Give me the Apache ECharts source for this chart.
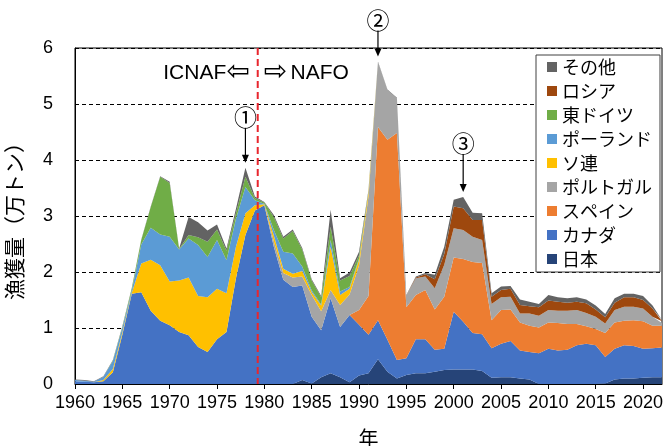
<!DOCTYPE html>
<html>
<head>
<meta charset="utf-8">
<script src="https://cdn.jsdelivr.net/npm/echarts@6.0.0/dist/echarts.min.js"></script>
<style>
  html, body { margin: 0; padding: 0; background: #fff; }
  #chart { width: 664px; height: 446px; }
</style>
</head>
<body>
<div id="chart"></div>
<script>
// years 1960..2022
const years = Array.from({ length: 63 }, (_, i) => 1960 + i);

// catch in 10,000 t, one value per year
const japan = [
  0, 0, 0, 0, 0, 0, 0, 0, 0, 0,
  0, 0, 0, 0, 0, 0, 0, 0, 0, 0,
  0, 0, 0, 0, 0.07, 0.01, 0.12, 0.19, 0.12, 0.03,
  0.15, 0.19, 0.44, 0.22, 0.10, 0.16, 0.19, 0.19, 0.22, 0.25,
  0.26, 0.26, 0.26, 0.23, 0.11, 0.12, 0.12, 0.10, 0.08, 0,
  0, 0, 0, 0, 0, 0, 0.01, 0.08, 0.10, 0.10,
  0.11, 0.12, 0.12
];
const canada = [
  0.05, 0.04, 0.03, 0.05, 0.21, 0.88, 1.61, 1.64, 1.31, 1.13,
  1.05, 0.93, 0.87, 0.66, 0.57, 0.80, 0.93, 1.89, 2.66, 3.10,
  3.19, 2.45, 1.86, 1.73, 1.69, 1.19, 0.84, 1.34, 0.90, 1.20,
  0.91, 0.69, 0.70, 0.57, 0.33, 0.30, 0.61, 0.61, 0.39, 0.38,
  1.03, 0.85, 0.65, 0.66, 0.53, 0.60, 0.65, 0.50, 0.49, 0.55,
  0.63, 0.60, 0.61, 0.69, 0.72, 0.69, 0.47, 0.55, 0.59, 0.58,
  0.52, 0.52, 0.53
];
const spain = [
  0, 0, 0, 0, 0, 0, 0, 0, 0, 0,
  0, 0, 0, 0, 0, 0, 0, 0, 0, 0,
  0, 0, 0, 0, 0, 0, 0, 0, 0, 0,
  0.26, 0.69, 3.45, 3.57, 4.05, 0.91, 0.79, 0.88, 0.72, 0.93,
  0.97, 1.12, 1.27, 1.27, 0.50, 0.60, 0.56, 0.50, 0.47, 0.46,
  0.47, 0.49, 0.46, 0.38, 0.31, 0.29, 0.43, 0.47, 0.44, 0.46,
  0.49, 0.40, 0.39
];
const portugal = [
  0, 0, 0, 0, 0, 0, 0, 0, 0, 0,
  0, 0, 0, 0, 0, 0, 0, 0, 0, 0,
  0, 0.10, 0.12, 0.17, 0.16, 0.39, 0.34, 0.15, 0.39, 0.37,
  0.80, 1.78, 1.16, 0.89, 0.62, 0.21, 0.30, 0.24, 0.38, 0.57,
  0.52, 0.52, 0.45, 0.41, 0.29, 0.23, 0.23, 0.16, 0.22, 0.21,
  0.22, 0.22, 0.24, 0.25, 0.24, 0.22, 0.17, 0.22, 0.25, 0.24,
  0.23, 0.16, 0.05
];
const ussr = [
  0, 0, 0, 0.02, 0.06, 0.04, 0.02, 0.51, 0.91, 0.99,
  0.78, 0.92, 1.03, 0.91, 0.98, 0.90, 0.69, 0.56, 0.39, 0.09,
  0.02, 0.10, 0.08, 0.07, 0.10, 0.05, 0.10, 0.77, 0.18, 0.10,
  0.10, 0.08, 0, 0, 0, 0, 0, 0, 0, 0,
  0, 0, 0, 0, 0, 0, 0, 0, 0, 0,
  0, 0, 0, 0, 0, 0, 0, 0, 0, 0,
  0, 0, 0
];
const poland = [
  0.02, 0.02, 0.01, 0.06, 0.14, 0.08, 0.04, 0.34, 0.57, 0.55,
  0.80, 0.55, 0.70, 0.91, 0.72, 0.87, 0.59, 0.50, 0.47, 0.09,
  0.01, 0.10, 0.30, 0.36, 0.08, 0.03, 0.02, 0.12, 0.06, 0.03,
  0.02, 0.01, 0, 0, 0, 0, 0, 0, 0, 0,
  0, 0, 0, 0, 0, 0, 0, 0, 0, 0,
  0, 0, 0, 0, 0, 0, 0, 0, 0, 0,
  0, 0, 0
];
const eastGermany = [
  0, 0, 0, 0, 0.01, 0.02, 0.04, 0.08, 0.37, 1.03,
  0.96, 0.01, 0.06, 0.14, 0.27, 0.19, 0.17, 0.10, 0.18, 0.04,
  0.02, 0.23, 0.24, 0.40, 0.30, 0.18, 0.13, 0.24, 0.20, 0.20,
  0.06, 0.01, 0, 0, 0, 0, 0, 0, 0, 0,
  0, 0, 0, 0, 0, 0, 0, 0, 0, 0,
  0, 0, 0, 0, 0, 0, 0, 0, 0, 0,
  0, 0, 0
];
const russia = [
  0, 0, 0, 0, 0, 0, 0, 0, 0, 0,
  0, 0, 0, 0, 0, 0, 0, 0, 0, 0,
  0, 0, 0, 0, 0, 0, 0, 0, 0, 0,
  0, 0, 0, 0, 0, 0, 0.01, 0.04, 0.16, 0.19,
  0.39, 0.39, 0.30, 0.36, 0.13, 0.13, 0.14, 0.15, 0.13, 0.15,
  0.17, 0.16, 0.14, 0.15, 0.17, 0.13, 0.11, 0.13, 0.17, 0.17,
  0.15, 0.15, 0.03
];
const others = [
  0.01, 0.01, 0.01, 0.01, 0.01, 0.01, 0.01, 0.01, 0.01, 0.01,
  0.02, 0.01, 0.32, 0.27, 0.20, 0.09, 0.04, 0.08, 0.16, 0.03,
  0.01, 0.04, 0.03, 0.03, 0.03, 0.02, 0.02, 0.30, 0.04, 0.06,
  0.06, 0.02, 0.01, 0.01, 0.01, 0.01, 0.02, 0.02, 0.08, 0.13,
  0.12, 0.20, 0.13, 0.12, 0.06, 0.06, 0.05, 0.10, 0.08, 0.06,
  0.10, 0.08, 0.08, 0.08, 0.07, 0.07, 0.06, 0.08, 0.06, 0.06,
  0.07, 0.05, 0.02
];

// stacking order, bottom to top
const stackNames = ['日本', 'カナダ', 'スペイン', 'ポルトガル', 'ソ連', 'ポーランド', '東ドイツ', 'ロシア', 'その他'];
const stackData = [japan, canada, spain, portugal, ussr, poland, eastGermany, russia, others];
const stackColors = ['#264478', '#4472C4', '#ED7D31', '#A5A5A5', '#FFC000', '#5B9BD5', '#70AD47', '#9E480E', '#636363'];

const yTicks = [0, 1, 2, 3, 4, 5, 6];
const regimeChangeYear = 1979.3;
const peaks = [
  { year: 1978, label: '①' },
  { year: 1992, label: '②' },
  { year: 2001, label: '③' }
];
const arrowLen = { 1978: 35, 1992: 26, 2001: 38 };

const LATIN = '"Liberation Sans", Arial, "DejaVu Sans", sans-serif';
const JP = '"Noto Sans CJK JP", "Noto Sans", sans-serif';

const series = stackNames.map((name, k) => ({
  name: name,
  type: 'line',
  stack: 'catch',
  symbol: 'none',
  silent: true,
  color: stackColors[k],
  lineStyle: { width: 0 },
  areaStyle: { color: stackColors[k], opacity: 1 },
  emphasis: { disabled: true },
  data: stackData[k]
}));

const every5 = (i, v) => (Number(v) - 1960) % 5 === 0;

const option = {
  animation: false,
  backgroundColor: '#fff',
  grid: {
    left: 75, top: 48, right: 2, bottom: 62,
    show: true, borderColor: '#000', borderWidth: 1,
    outerBoundsMode: 'none'
  },
  legend: {
    orient: 'vertical',
    left: 536, top: 55,
    icon: 'rect',
    itemWidth: 10, itemHeight: 10, itemGap: 6,
    padding: [3, 8, 4, 11],
    borderColor: '#404040', borderWidth: 1,
    backgroundColor: '#fff',
    selectedMode: false,
    textStyle: { fontSize: 18, fontFamily: JP, color: '#000' },
    data: stackNames.slice().reverse()
  },
  xAxis: {
    type: 'category',
    boundaryGap: false,
    data: years.map(String),
    name: '年', nameLocation: 'middle', nameGap: 44,
    nameTextStyle: { fontSize: 20, fontFamily: JP, color: '#000' },
    axisLine: { show: true, lineStyle: { color: '#000', width: 1 } },
    axisTick: { show: true, length: 5, interval: every5, lineStyle: { color: '#000' } },
    axisLabel: { fontSize: 18, fontFamily: LATIN, color: '#000', margin: 10, interval: every5 },
    splitLine: { show: false }
  },
  yAxis: {
    type: 'value',
    min: yTicks[0], max: yTicks[yTicks.length - 1], interval: 1,
    name: '漁獲量（万トン）', nameLocation: 'middle', nameRotate: 90, nameGap: 50,
    nameTextStyle: { fontSize: 21, fontFamily: JP, color: '#000' },
    axisLine: { show: true, lineStyle: { color: '#000', width: 1 } },
    axisTick: { show: false },
    axisLabel: { fontSize: 18, fontFamily: LATIN, color: '#000', margin: 22 },
    splitLine: { show: true, lineStyle: { color: '#000', type: [4, 3], width: 1 } }
  },
  series: series
};

const chart = echarts.init(document.getElementById('chart'));
chart.setOption(option);

function totalAt(year) {
  const i = years.indexOf(year);
  return stackData.reduce((s, arr) => s + arr[i], 0);
}

function xPixel(year) {
  const i0 = Math.floor(year) - years[0];
  const a = chart.convertToPixel({ xAxisIndex: 0 }, i0);
  const b = chart.convertToPixel({ xAxisIndex: 0 }, i0 + 1);
  return a + (b - a) * (year - Math.floor(year));
}

const graphics = [];
peaks.forEach(p => {
  const x = xPixel(p.year);
  const y = chart.convertToPixel({ yAxisIndex: 0 }, totalAt(p.year));
  const tip = y - 5;
  const tail = tip - arrowLen[p.year];
  graphics.push({ type: 'line', z: 100, shape: { x1: x, y1: tail, x2: x, y2: tip - 6 }, style: { stroke: '#000', lineWidth: 1.2 } });
  graphics.push({ type: 'polygon', z: 100, shape: { points: [[x - 3.5, tip - 8], [x + 3.5, tip - 8], [x, tip]] }, style: { fill: '#000' } });
  graphics.push({ type: 'text', z: 100, x: x, y: tail + 1, style: { text: p.label, fontSize: 23, fontFamily: JP, fill: '#000', align: 'center', verticalAlign: 'bottom' } });
});

// ICNAF -> NAFO boundary
const lineX = xPixel(regimeChangeYear);
const yTop = chart.convertToPixel({ yAxisIndex: 0 }, yTicks[yTicks.length - 1]);
const yBottom = chart.convertToPixel({ yAxisIndex: 0 }, yTicks[0]);
graphics.push({
  type: 'line', silent: true, z: 100,
  shape: { x1: lineX, y1: yTop, x2: lineX, y2: yBottom },
  style: { stroke: '#E8262E', lineWidth: 2, lineDash: [7, 4] }
});

const labelY = chart.convertToPixel({ yAxisIndex: 0 }, 5.55);
graphics.push({
  type: 'text', z: 100, x: lineX - 8, y: labelY,
  style: {
    text: '{t|ICNAF}{a|⇦}', align: 'right', verticalAlign: 'middle',
    rich: {
      t: { fontSize: 21, fontFamily: LATIN, fill: '#000' },
      a: { fontSize: 28, fontFamily: '"DejaVu Sans", sans-serif', fill: '#000' }
    }
  }
});
graphics.push({
  type: 'text', z: 100, x: lineX + 6, y: labelY,
  style: {
    text: '{a|⇨} {t|NAFO}', align: 'left', verticalAlign: 'middle',
    rich: {
      t: { fontSize: 21, fontFamily: LATIN, fill: '#000' },
      a: { fontSize: 28, fontFamily: '"DejaVu Sans", sans-serif', fill: '#000' }
    }
  }
});

chart.setOption({ graphic: graphics });
</script>
</body>
</html>
